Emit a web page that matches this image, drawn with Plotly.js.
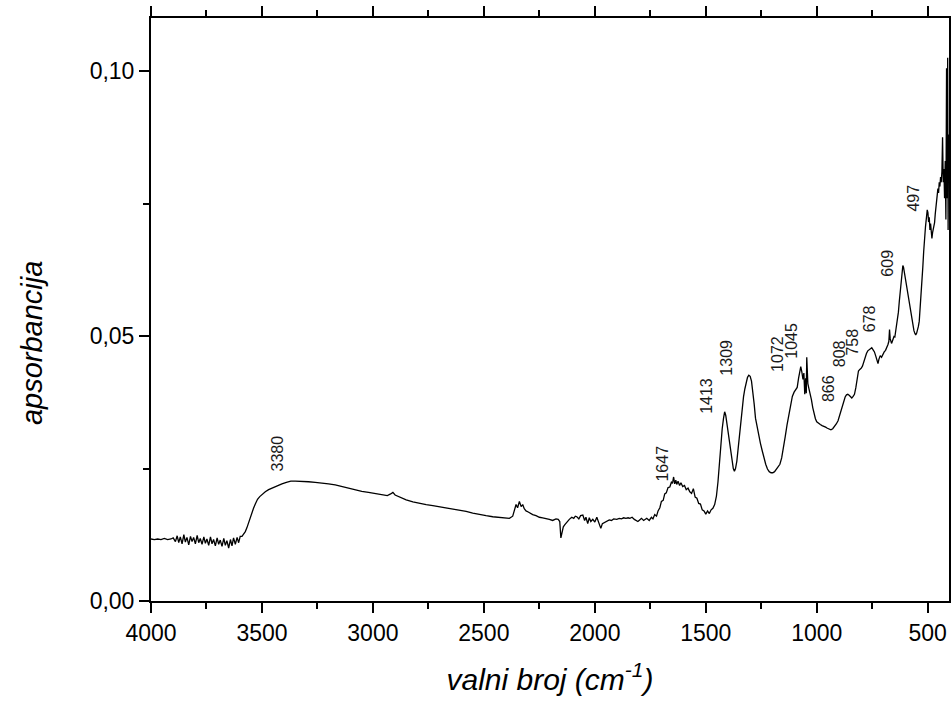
<!DOCTYPE html>
<html>
<head>
<meta charset="utf-8">
<script src="https://cdn.plot.ly/plotly-3.0.1.min.js"></script>
<style>
  html, body { margin: 0; padding: 0; background: #ffffff; }
  #chart { width: 952px; height: 706px; }
</style>
</head>
<body>
<div id="chart"></div>
<script>
// ---- DATA ----
// Region 1: 4000 - 3500 cm-1
var wn1 = [4000,3985,3970,3955,3940,3925,3910,3900,
           3890,3882,3875,3868,3860,3852,3845,3838,
           3830,3822,3815,3808,3800,3792,3785,3778,
           3770,3762,3755,3748,3740,3732,3725,3718,
           3710,3702,3695,3688,3680,3672,3665,3658,
           3650,3642,3635,3628,3620,3612,3605,3598,
           3590,3582,3575,3568,3560,3552,3545,3538,
           3530,3520,3510,3500];
var ab1 = [0.0117,0.0116,0.0117,0.0116,0.0118,0.0116,0.0117,0.0119,
           0.0112,0.0123,0.0110,0.0121,0.0108,0.0125,0.0111,0.0120,
           0.0106,0.0122,0.0112,0.0120,0.0108,0.0124,0.0110,0.0118,
           0.0107,0.0121,0.0109,0.0117,0.0105,0.0121,0.0108,0.0116,
           0.0104,0.0119,0.0107,0.0115,0.0103,0.0118,0.0105,0.0114,
           0.0100,0.0116,0.0104,0.0119,0.0107,0.0120,0.0110,0.0122,
           0.0122,0.0126,0.0131,0.0138,0.0148,0.0160,0.0168,0.0175,
           0.0183,0.0192,0.0197,0.0201];

// Region 2: 3500 - 1800 cm-1
var wn2 = [3485,3470,3450,3430,3410,3390,3370,3350,3320,3290,
           3260,3230,3200,3170,3140,3110,3080,3050,3020,2990,
           2960,2935,2920,2910,2900,2880,2850,2820,2790,2760,
           2730,2700,2670,2640,2610,2580,2550,2520,2490,2460,
           2430,2400,2385,2370,2362,2355,2348,2340,2332,2325,
           2318,2310,2300,2290,2280,2265,2250,2235,2220,2205,
           2190,2175,2165,2158,2153,2148,2142,2135,2125,2115,
           2104,2095,2088,2081,2072,2064,2054,2046,2040,2032,
           2025,2018,2009,2000,1991,1984,1978,1973,1966,1958,
           1946,1935,1925,1915,1901,1890,1880,1870,1860,1850,
           1842,1832,1822,1815,1806];
var ab2 = [0.0206,0.0210,0.0214,0.0218,0.0221,0.0224,0.0226,0.0226,0.0226,0.0225,
           0.0224,0.0223,0.0221,0.0219,0.0216,0.0212,0.0209,0.0207,0.0205,0.0203,
           0.0201,0.0199,0.0202,0.0205,0.0200,0.0196,0.0191,0.0187,0.0184,0.0182,
           0.0180,0.0178,0.0175,0.0173,0.0171,0.0169,0.0166,0.0163,0.0161,0.0159,
           0.0158,0.0157,0.0156,0.0160,0.0172,0.0182,0.0176,0.0188,0.0178,0.0182,
           0.0174,0.0170,0.0168,0.0165,0.0163,0.0161,0.0158,0.0157,0.0156,0.0154,
           0.0152,0.0155,0.0154,0.0150,0.0119,0.0128,0.0140,0.0144,0.0150,0.0154,
           0.0158,0.0156,0.0160,0.0159,0.0155,0.0161,0.0162,0.0152,0.0158,0.0146,
           0.0157,0.0150,0.0154,0.0149,0.0158,0.0150,0.0141,0.0137,0.0146,0.0148,
           0.0150,0.0153,0.0152,0.0155,0.0154,0.0156,0.0155,0.0157,0.0156,0.0157,
           0.0156,0.0158,0.0154,0.0152,0.0150];

// Region 3: 1800 - 990 cm-1
var wn3 = [1798,1790,1780,1766,1755,1745,1738,1730,1722,1715,
           1707,1700,1692,1685,1678,1670,1662,1655,1650,1645,
           1640,1635,1631,1625,1618,1612,1604,1596,1588,1580,
           1572,1564,1556,1548,1540,1532,1524,1516,1508,1500,
           1492,1484,1476,1468,1460,1452,1445,1438,1432,1426,
           1420,1415,1410,1405,1400,1394,1388,1382,1376,1371,
           1366,1360,1354,1348,1342,1336,1330,1324,1318,1312,
           1306,1300,1294,1288,1282,1276,1270,1262,1254,1246,
           1238,1230,1222,1214,1206,1198,1190,1182,1174,1166,
           1158,1150,1142,1134,1126,1118,1110,1102,1095,1088,
           1082,1077,1072,1067,1062,1058,1054,1050,1047,1045,
           1043,1040,1036,1030,1024,1018,1012,1006,1000,992];
var ab3 = [0.0153,0.0156,0.0152,0.0156,0.0152,0.0158,0.0155,0.0163,0.0160,0.0170,
           0.0176,0.0188,0.0190,0.0202,0.0204,0.0214,0.0215,0.0224,0.0222,0.0234,
           0.0221,0.0228,0.0220,0.0226,0.0218,0.0223,0.0216,0.0218,0.0210,0.0213,
           0.0206,0.0203,0.0212,0.0196,0.0194,0.0184,0.0183,0.0172,0.0170,0.0164,
           0.0170,0.0165,0.0172,0.0175,0.0182,0.0198,0.0225,0.0265,0.0300,0.0325,
           0.0345,0.0357,0.0350,0.0336,0.0318,0.0300,0.0285,0.0265,0.0250,0.0245,
           0.0250,0.0264,0.0290,0.0320,0.0345,0.0368,0.0385,0.0400,0.0412,0.0422,
           0.0426,0.0424,0.0415,0.0398,0.0372,0.0345,0.0330,0.0312,0.0298,0.0284,
           0.0270,0.0258,0.0249,0.0244,0.0242,0.0242,0.0244,0.0248,0.0252,0.0258,
           0.0270,0.0288,0.0310,0.0332,0.0352,0.0370,0.0386,0.0394,0.0398,0.0403,
           0.0420,0.0436,0.0442,0.0432,0.0418,0.0430,0.0390,0.0420,0.0392,0.0460,
           0.0425,0.0410,0.0402,0.0393,0.0380,0.0365,0.0352,0.0344,0.0338,0.0335];

// Region 4: 990 - 405 cm-1
var wn4 = [984,976,968,960,952,944,936,928,920,912,
           904,896,888,880,872,866,860,854,848,842,
           836,830,824,818,812,806,800,794,788,782,
           776,770,764,758,752,746,740,734,728,724,
           720,714,708,702,696,690,684,679,675,672,
           669,666,663,660,656,652,648,644,640,636,
           632,628,624,620,616,612,609,606,602,598,
           594,590,586,582,578,574,570,566,562,558,
           554,550,546,542,538,534,530,526,522,518,
           514,510,506,502,499,496,493,490,487,484,
           481,478,475,472,469,466,463,460,457,454,
           451,448,445,442,439,436,433,430,427,424,
           421,418,415,412,410,408,406,405];
var ab4 = [0.0333,0.0331,0.0330,0.0328,0.0326,0.0324,0.0323,0.0325,0.0329,0.0334,
           0.0340,0.0352,0.0362,0.0374,0.0385,0.0389,0.0390,0.0388,0.0385,0.0383,
           0.0386,0.0390,0.0402,0.0420,0.0434,0.0437,0.0439,0.0443,0.0452,0.0462,
           0.0467,0.0472,0.0474,0.0476,0.0478,0.0474,0.0470,0.0462,0.0452,0.0448,
           0.0456,0.0463,0.0460,0.0466,0.0470,0.0473,0.0478,0.0484,0.0490,0.0512,
           0.0495,0.0492,0.0486,0.0489,0.0494,0.0499,0.0498,0.0508,0.0518,0.0528,
           0.0545,0.0565,0.0585,0.0605,0.0622,0.0633,0.0630,0.0622,0.0615,0.0608,
           0.0598,0.0585,0.0570,0.0557,0.0546,0.0537,0.0528,0.0518,0.0510,0.0505,
           0.0502,0.0505,0.0510,0.0518,0.0528,0.0550,0.0575,0.0600,0.0630,0.0660,
           0.0690,0.0706,0.0722,0.0738,0.0733,0.0715,0.0724,0.0700,0.0712,0.0690,
           0.0684,0.0695,0.0700,0.0708,0.0714,0.0730,0.0745,0.0758,0.0765,0.0778,
           0.0770,0.0790,0.0782,0.0800,0.0790,0.0810,0.0875,0.0790,0.0815,0.0760,
           0.0830,0.0720,0.1005,0.0760,0.1025,0.0700,0.0880,0.0800];

// Peak labels
var peakLabels = ['3380','1647','1413','1309','1072','1045','866','808','758','678','609','497'];

// Axis texts
var xTitle = 'valni broj (cm<sup>-1</sup>)';
var yTitle = 'apsorbancija';

// ---- LAYOUT-ONLY settings (label placement) ----
var labelAnchorX = [3429,1694,1495,1405,1180,1112,950,900,837,765,679,566];
var labelAnchorY = [0.0242,0.0223,0.0351,0.0423,0.0430,0.0455,0.0374,0.0440,0.0462,0.0506,0.0611,0.0732];

var wn = wn1.concat(wn2, wn3, wn4);
var ab = ab1.concat(ab2, ab3, ab4);

var trace = {
  x: wn, y: ab, type: 'scatter', mode: 'lines',
  line: {color: '#000000', width: 1.3},
  hoverinfo: 'skip'
};

var fontFam = 'Liberation Sans, Arial, sans-serif';

var annotations = peakLabels.map(function (t, i) {
  return {
    x: labelAnchorX[i], y: labelAnchorY[i], xref: 'x', yref: 'y',
    text: t, showarrow: false, textangle: -90,
    xanchor: 'center', yanchor: 'bottom',
    font: {family: fontFam, size: 16, color: '#1a1a1a'},
    borderpad: 0
  };
});

// y-axis title drawn as a rotated paper annotation (placed lower than centre, as in the reference)
annotations.push({
  xref: 'paper', yref: 'paper', x: -0.149, y: 0.4425,
  xanchor: 'center', yanchor: 'middle',
  text: yTitle, showarrow: false, textangle: -90,
  font: {family: fontFam, size: 29, style: 'italic', color: '#000'}
});

var layout = {
  width: 952, height: 706,
  margin: {l: 151, r: 3, t: 18, b: 105},
  paper_bgcolor: '#ffffff', plot_bgcolor: '#ffffff',
  separators: ',.',
  showlegend: false,
  font: {family: fontFam, color: '#000000'},
  xaxis: {
    range: [4000, 404],
    tick0: 0, dtick: 500,
    ticks: 'outside', ticklen: 10, tickwidth: 2, tickcolor: '#000',
    minor: {dtick: 250, tick0: 0, ticks: 'outside', ticklen: 6, tickwidth: 2, tickcolor: '#000', showgrid: false},
    showline: true, linewidth: 2, linecolor: '#000', mirror: 'ticks',
    showgrid: false, zeroline: false,
    tickfont: {family: fontFam, size: 23, color: '#000'},
    tickformat: 'd',
    title: {text: xTitle, font: {family: fontFam, size: 30, style: 'italic', color: '#000'}, standoff: 24},
    automargin: false
  },
  yaxis: {
    range: [0, 0.11],
    tick0: 0, dtick: 0.05,
    ticks: 'outside', ticklen: 10, tickwidth: 2, tickcolor: '#000',
    minor: {dtick: 0.025, tick0: 0, ticks: 'outside', ticklen: 6, tickwidth: 2, tickcolor: '#000', showgrid: false},
    showline: true, linewidth: 2, linecolor: '#000', mirror: true,
    showgrid: false, zeroline: false,
    tickfont: {family: fontFam, size: 23, color: '#000'},
    tickformat: '.2f',
    automargin: false
  },
  annotations: annotations
};

Plotly.newPlot('chart', [trace], layout, {staticPlot: true, displayModeBar: false});
</script>
</body>
</html>
